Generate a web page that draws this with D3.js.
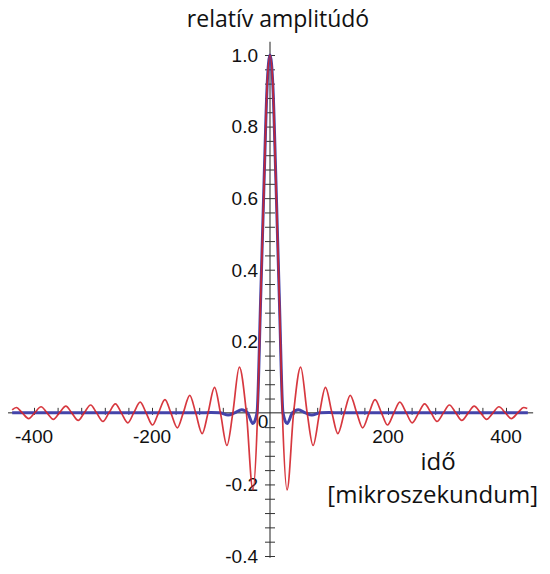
<!DOCTYPE html>
<html>
<head>
<meta charset="utf-8">
<script src="https://cdn.jsdelivr.net/npm/d3@7"></script>
<style>
  html, body { margin: 0; padding: 0; background: #fff; }
  svg { display: block; }
</style>
</head>
<body>
<svg id="chart" width="550" height="574"></svg>
<script>
// ---- data ----
const redTime = [-437,-430,-420,-409,-399,-388,-378,-367,-357,-346,-336,-325,-315,-304,-294,-283,-273,-262,-252,-241,-231,-220,-210,-199,-189,-178,-168,-157,-147,-136,-126,-115,-105,-94,-84,-73,-63,-52,-40,-29,-21,-16,-10,-5,0,
  5,10,16,21,29,40,52,63,73,84,94,105,115,126,136,147,157,168,178,189,199,210,220,231,241,252,262,273,283,294,304,315,325,336,346,357,367,378,388,399,409,420,430,436];
const redValue = [0.008,0.015,0,-0.016,0,0.017,0,-0.018,0,0.019,0,-0.021,0,0.022,0,-0.024,0,0.025,0,-0.028,0,0.030,0,-0.034,0,0.037,0,-0.042,0,0.049,0,-0.058,0,0.071,0,-0.091,0,0.128,0,-0.215,0,0.31,0.64,0.91,1.0,
  0.91,0.64,0.31,0,-0.215,0,0.128,0,-0.091,0,0.071,0,-0.058,0,0.049,0,-0.042,0,0.037,0,-0.034,0,0.030,0,-0.028,0,0.025,0,-0.024,0,0.022,0,-0.021,0,0.019,0,-0.018,0,0.017,0,-0.016,0,0.015,0.012];

const blueTime  = [-437,-120,-100,-85,-71,-60,-48,-38,-29,-22,-16,-10,-5,0,5,10,16,22,29,38,48,60,71,85,100,120,437];
const blueValue = [0,0,0.001,0,-0.006,0,0.009,0,-0.03,0,0.31,0.65,0.91,1.0,0.91,0.65,0.31,0,-0.03,0,0.009,0,-0.006,0,0.001,0,0];

const yTickValues  = [-0.4,-0.36,-0.32,-0.28,-0.24,-0.2,-0.16,-0.12,-0.08,-0.04,0.04,0.08,0.12,0.16,0.2,0.24,0.28,0.32,0.36,0.4,0.44,0.48,0.52,0.56,0.6,0.64,0.68,0.72,0.76,0.8,0.84,0.88,0.92,0.96,1.0];
const yLabelValues = [-0.4,-0.2,0.2,0.4,0.6,0.8,1.0];
const xTickValues  = [-400,-360,-320,-280,-240,-200,-160,-120,-80,-40,40,80,120,160,200,240,280,320,360,400];
const xLabelValues = [-400,-200,200,400];

const titleText = "relatív amplitúdó";
const xLabel1 = "idő";
const xLabel2 = "[mikroszekundum]";

// ---- scales ----
const svg = d3.select("#chart");
const x = d3.scaleLinear().domain([-400, 400]).range([34, 506]);
const y = d3.scaleLinear().domain([-0.4, 1.0]).range([556, 55]);

svg.append("rect").attr("width", 550).attr("height", 574).attr("fill", "#fff");

// ---- axes lines ----
const axisColor = "#222";
svg.append("line")
  .attr("x1", x(-444)).attr("x2", x(446))
  .attr("y1", y(0)).attr("y2", y(0))
  .attr("stroke", axisColor).attr("stroke-width", 1);
svg.append("line")
  .attr("x1", x(0)).attr("x2", x(0))
  .attr("y1", y(1.037)).attr("y2", y(-0.405))
  .attr("stroke", axisColor).attr("stroke-width", 1);

// y ticks (crossing)
const yAxis = d3.axisLeft(y).tickValues(yTickValues).tickSize(5).tickSizeOuter(0).tickFormat("");
const gy = svg.append("g").attr("transform", `translate(${x(0)},0)`).call(yAxis);
gy.select(".domain").remove();
gy.selectAll(".tick line").attr("x1", 5).attr("stroke", "#333");

// x ticks
const xAxis = d3.axisTop(x).tickValues(xTickValues).tickSize(5).tickSizeOuter(0).tickFormat("");
const gx = svg.append("g").attr("transform", `translate(0,${y(0)})`).call(xAxis);
gx.select(".domain").remove();
gx.selectAll(".tick line").attr("y1", 2).attr("stroke", "#333");

// tick labels
const labelFont = "'Liberation Sans', Arial, sans-serif";
svg.append("g").selectAll("text").data(yLabelValues).join("text")
  .attr("x", x(0) - 12)
  .attr("y", d => y(d))
  .attr("dy", "0.36em")
  .attr("text-anchor", "end")
  .attr("font-family", labelFont).attr("font-size", 19).attr("fill", "#111")
  .text(d => d.toFixed(1));

svg.append("g").selectAll("text").data(xLabelValues).join("text")
  .attr("x", d => x(d))
  .attr("y", 443)
  .attr("text-anchor", "middle")
  .attr("font-family", labelFont).attr("font-size", 19).attr("fill", "#111")
  .text(d => String(d));

svg.append("text")
  .attr("x", x(0) - 7).attr("y", 428)
  .attr("text-anchor", "middle")
  .attr("font-family", labelFont).attr("font-size", 19).attr("fill", "#111")
  .text("0");

// ---- series ----
const line = d3.line().x(d => x(d[0])).y(d => y(d[1])).curve(d3.curveMonotoneX);
const blueData = blueTime.map((t, i) => [t, blueValue[i]]);
const redData = redTime.map((t, i) => [t, redValue[i]]);

svg.append("path").datum(blueData)
  .attr("d", line)
  .attr("fill", "none").attr("stroke", "#4444aa").attr("stroke-width", 3)
  .attr("stroke-linejoin", "round");

svg.append("path").datum(redData)
  .attr("d", line)
  .attr("fill", "none").attr("stroke", "#d3222a").attr("stroke-width", 1.7)
  .attr("stroke-opacity", 0.9)
  .attr("stroke-linejoin", "round");

// ---- titles ----
const titleFont = "'Open Sans', 'Noto Sans', sans-serif";
svg.append("text")
  .attr("x", 278).attr("y", 27)
  .attr("text-anchor", "middle")
  .attr("font-family", titleFont).attr("font-size", 23).attr("fill", "#111")
  .text(titleText);

svg.append("text")
  .attr("x", 438).attr("y", 470)
  .attr("text-anchor", "middle")
  .attr("font-family", titleFont).attr("font-size", 24).attr("fill", "#111")
  .text(xLabel1);

svg.append("text")
  .attr("x", 538).attr("y", 503)
  .attr("text-anchor", "end")
  .attr("font-family", titleFont).attr("font-size", 24).attr("fill", "#111")
  .text(xLabel2);
</script>
</body>
</html>
